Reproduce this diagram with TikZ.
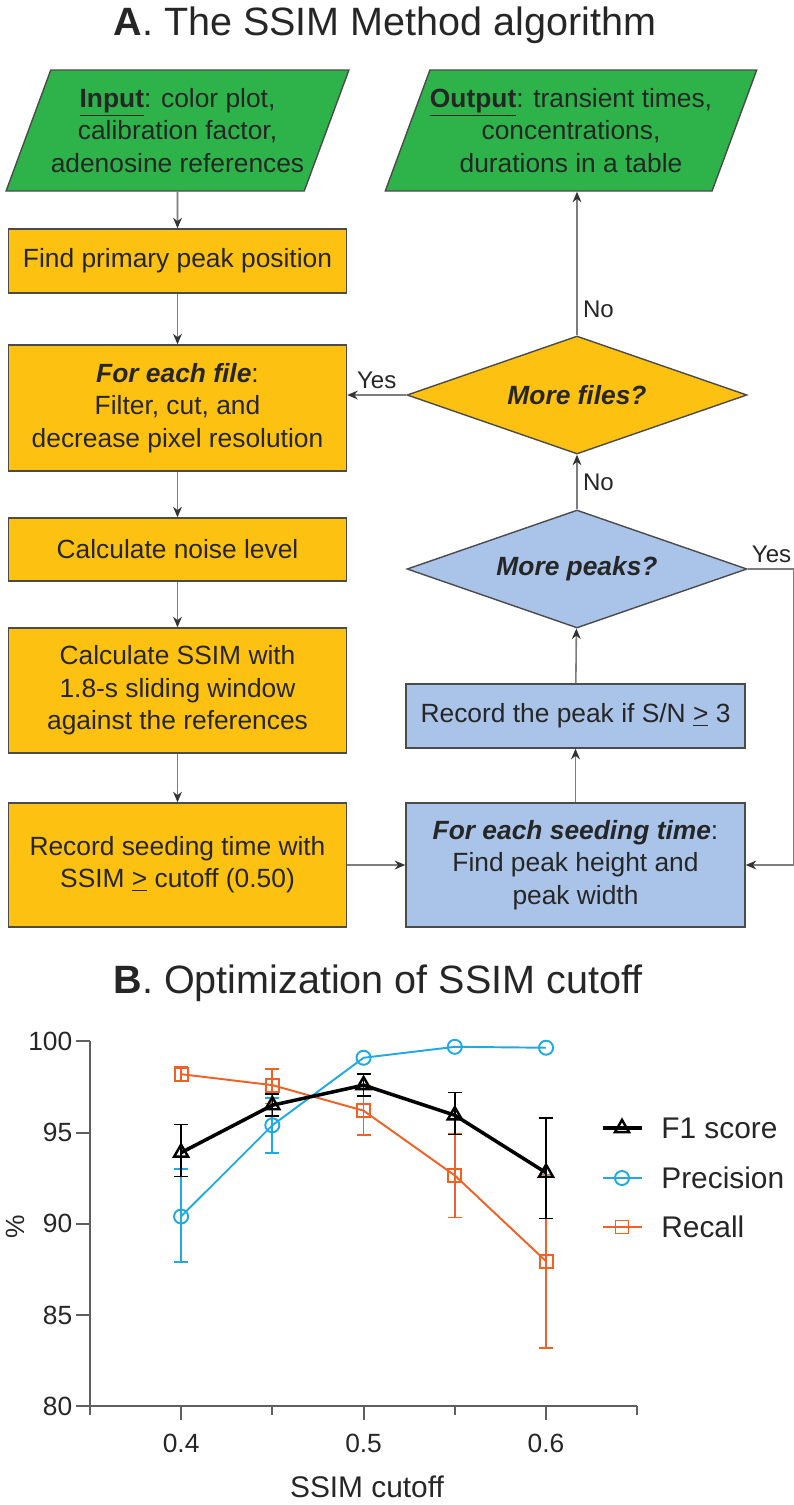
\documentclass[tikz,border=0pt]{standalone}
\usepackage{fontspec}
\setmainfont{Liberation Sans}
\usetikzlibrary{arrows.meta,positioning,shapes.geometric,plotmarks,calc}
\definecolor{ssimgreen}{RGB}{45,179,74}
\definecolor{ssimyellow}{RGB}{253,193,17}
\definecolor{ssimblue}{RGB}{169,196,232}
\definecolor{edgegray}{RGB}{75,75,75}
\definecolor{wiregray}{RGB}{125,125,125}
\definecolor{axisgray}{RGB}{95,95,95}
\definecolor{precblue}{RGB}{33,170,226}
\definecolor{recorange}{RGB}{243,96,36}
\newdimen\pxu
\pxu=0.02cm
\newcommand\flowfont{\fontsize{15}{18.4}\selectfont}
\newcommand\headfont{\fontsize{22.5}{27}\selectfont}
\newcommand\tickfont{\fontsize{15}{18}\selectfont}
\newcommand\keyfont{\fontsize{17}{20}\selectfont}
\newcommand\yesnofont{\fontsize{13.7}{16}\selectfont}

\begin{document}
\begin{tikzpicture}[x=0.02cm, y=-0.02cm, font=\flowfont, text=black!85,
    block/.style={draw=edgegray, line width=0.8pt, minimum width=338\pxu, inner sep=0pt, align=center},
    iobox/.style={trapezium, trapezium left angle=62, trapezium right angle=118, trapezium stretches body,
      draw=edgegray, line width=0.8pt, fill=ssimgreen, minimum width=337\pxu, minimum height=121\pxu,
      inner sep=0pt, align=center},
    decision/.style={diamond, aspect=2.88, draw=edgegray, line width=0.8pt, minimum width=340\pxu,
      minimum height=118\pxu, inner sep=0pt, align=center},
    flow/.style={draw=wiregray, line width=0.9pt, -{Stealth[length=6pt,width=5pt,color=black!80]}},
    yesno/.style={font=\yesnofont, inner sep=3pt},
    axisline/.style={draw=axisgray, line width=1.1pt},
    f1line/.style={draw=black, line width=2pt, mark=triangle, mark size=4.6pt,
      mark options={solid, fill=white, line width=1.4pt}},
    precline/.style={draw=precblue, line width=1.1pt, mark=o, mark size=4pt,
      mark options={solid, fill=white, line width=1.1pt}},
    recline/.style={draw=recorange, line width=1.1pt, mark=square, mark size=3.7pt,
      mark options={solid, fill=white, line width=1.1pt}},
    f1err/.style={draw=black, line width=0.9pt},
    precerr/.style={draw=precblue, line width=1pt},
    recerr/.style={draw=recorange, line width=1pt}]
  \useasboundingbox (0,0) rectangle (794,1505);

  % panel A: el algoritmo
  \node[font=\headfont, anchor=base] (titleA) at (385,35) {\textbf{A}. The SSIM Method algorithm};

  \node[iobox] (input) at (177.5,130.5)
    {\underline{\textbf{Input}}: color plot,\\calibration factor,\\adenosine references};
  \node[iobox] (output) at (571,130.5)
    {\underline{\textbf{Output}}: transient times,\\concentrations,\\durations in a table};

  \node[block, fill=ssimyellow, minimum height=64\pxu] (findpeak) at (177.5,261) {Find primary peak position};
  \node[block, fill=ssimyellow, minimum height=126\pxu] (eachfile) at (177.5,408)
    {\textbf{\textit{For each file}}:\\Filter, cut, and\\decrease pixel resolution};
  \node[block, fill=ssimyellow, minimum height=63\pxu] (noise) at (177.5,549.5) {Calculate noise level};
  \node[block, fill=ssimyellow, minimum height=125\pxu] (ssim) at (177.5,690.5)
    {Calculate SSIM with\\1.8-s sliding window\\against the references};
  \node[block, fill=ssimyellow, minimum height=124\pxu] (seeding) at (177.5,865)
    {Record seeding time with\\SSIM \underline{>} cutoff (0.50)};

  \node[block, fill=ssimblue, minimum width=339\pxu, minimum height=124\pxu] (eachseed) at (575.5,865)
    {\textbf{\textit{For each seeding time}}:\\Find peak height and\\peak width};
  \node[block, fill=ssimblue, minimum width=339\pxu, minimum height=64\pxu] (recpeak) at (575.5,716)
    {Record the peak if S/N \underline{>} 3};
  \node[decision, fill=ssimblue] (morepeaks) at (577,569) {\textbf{\textit{More peaks?}}};
  \node[decision, fill=ssimyellow] (morefiles) at (577,395) {\textbf{\textit{More files?}}};

  % conectores
  \draw[flow] (input) -- (findpeak);
  \draw[flow] (findpeak) -- (eachfile);
  \draw[flow] (eachfile) -- (noise);
  \draw[flow] (noise) -- (ssim);
  \draw[flow] (ssim) -- (seeding);
  \draw[flow] (seeding) -- (eachseed);
  \draw[flow] (eachseed) -- (recpeak);
  \draw[flow] (recpeak) -- (morepeaks);
  \draw[flow] (morepeaks) -- node[yesno, right] {No} (morefiles);
  \draw[flow] (morefiles) -- node[yesno, right, pos=0.18] {No} (output.south -| morefiles);
  \draw[flow] (morefiles.west) -- node[yesno, above] {Yes} (morefiles.west -| eachfile.east);
  \draw[flow] (morepeaks.east) -- ++(46,0) node[yesno, above left, inner xsep=1pt] {Yes} |- (eachseed.east);

  % panel B: optimizacion del cutoff
  \node[font=\headfont, anchor=base] (titleB) at (378,993) {\textbf{B}. Optimization of SSIM cutoff};
  \begin{scope}[shift={(-548.75,2866)}, x=36.5cm, y=0.365cm]
    \draw[axisline] (0.35,100) -- (0.35,79.5);
    \draw[axisline] (0.35,80) -- (0.65,80);
    \foreach \v in {80,85,...,100}
      \draw[axisline] (0.35,\v) -- ++(-0.28cm,0pt) node[left, font=\tickfont, inner sep=1.5pt] (ytick\v) {\v};
    \foreach \c [count=\i] in {0.4,0.5,0.6} {
      \draw[axisline] (\c,80) -- ++(0pt,-0.28cm);
      \path (\c,80) ++(0pt,-0.92cm) node[anchor=base, font=\tickfont] (xtick\i) {\c};
    }
    \foreach \c in {0.45,0.55,0.65}
      \draw[axisline] (\c,80) -- ++(0pt,-0.18cm);

    % precision
    \foreach \c/\lo/\hi in {0.40/87.9/93.0, 0.45/93.9/96.9}
      \draw[precerr] (\c,\lo) ++(-0.14cm,0pt) -- ++(0.28cm,0pt) (\c,\lo) -- (\c,\hi) ++(-0.14cm,0pt) -- ++(0.28cm,0pt);
    \draw[precline] plot coordinates {(0.40,90.4) (0.45,95.4) (0.50,99.1) (0.55,99.7) (0.60,99.65)};

    % recall
    \foreach \c/\lo/\hi in {0.40/97.8/98.6, 0.45/96.6/98.5, 0.50/94.85/97.55, 0.55/90.35/94.95, 0.60/83.2/92.7}
      \draw[recerr] (\c,\lo) ++(-0.14cm,0pt) -- ++(0.28cm,0pt) (\c,\lo) -- (\c,\hi) ++(-0.14cm,0pt) -- ++(0.28cm,0pt);
    \draw[recline] plot coordinates {(0.40,98.2) (0.45,97.6) (0.50,96.2) (0.55,92.65) (0.60,87.95)};

    % F1
    \foreach \c/\lo/\hi in {0.40/92.6/95.45, 0.45/95.9/97.1, 0.50/97.0/98.2, 0.55/94.9/97.2, 0.60/90.3/95.8}
      \draw[f1err] (\c,\lo) ++(-0.14cm,0pt) -- ++(0.28cm,0pt) (\c,\lo) -- (\c,\hi) ++(-0.14cm,0pt) -- ++(0.28cm,0pt);
    \draw[f1line] plot coordinates {(0.40,93.9) (0.45,96.5) (0.50,97.6) (0.55,95.95) (0.60,92.8)};
  \end{scope}

  \node[font=\keyfont, anchor=base] (xtitle) at (367,1497) {SSIM cutoff};
  \node[font=\tickfont, rotate=90] (ytitle) at (15,1227) {\%};

  % leyenda
  \draw[f1line, mark indices={2}] plot coordinates {(603,1128) (622,1128) (642,1128)};
  \draw[precline, mark indices={2}] plot coordinates {(603,1178) (622,1178) (642,1178)};
  \draw[recline, mark indices={2}] plot coordinates {(603,1227) (622,1227) (642,1227)};
  \node[font=\keyfont, anchor=west, inner sep=0pt] (keyf1) at (661,1128) {F1 score};
  \node[font=\keyfont, anchor=west, inner sep=0pt] (keyprec) at (661,1178) {Precision};
  \node[font=\keyfont, anchor=west, inner sep=0pt] (keyrec) at (661,1227) {Recall};
\end{tikzpicture}
\end{document}
